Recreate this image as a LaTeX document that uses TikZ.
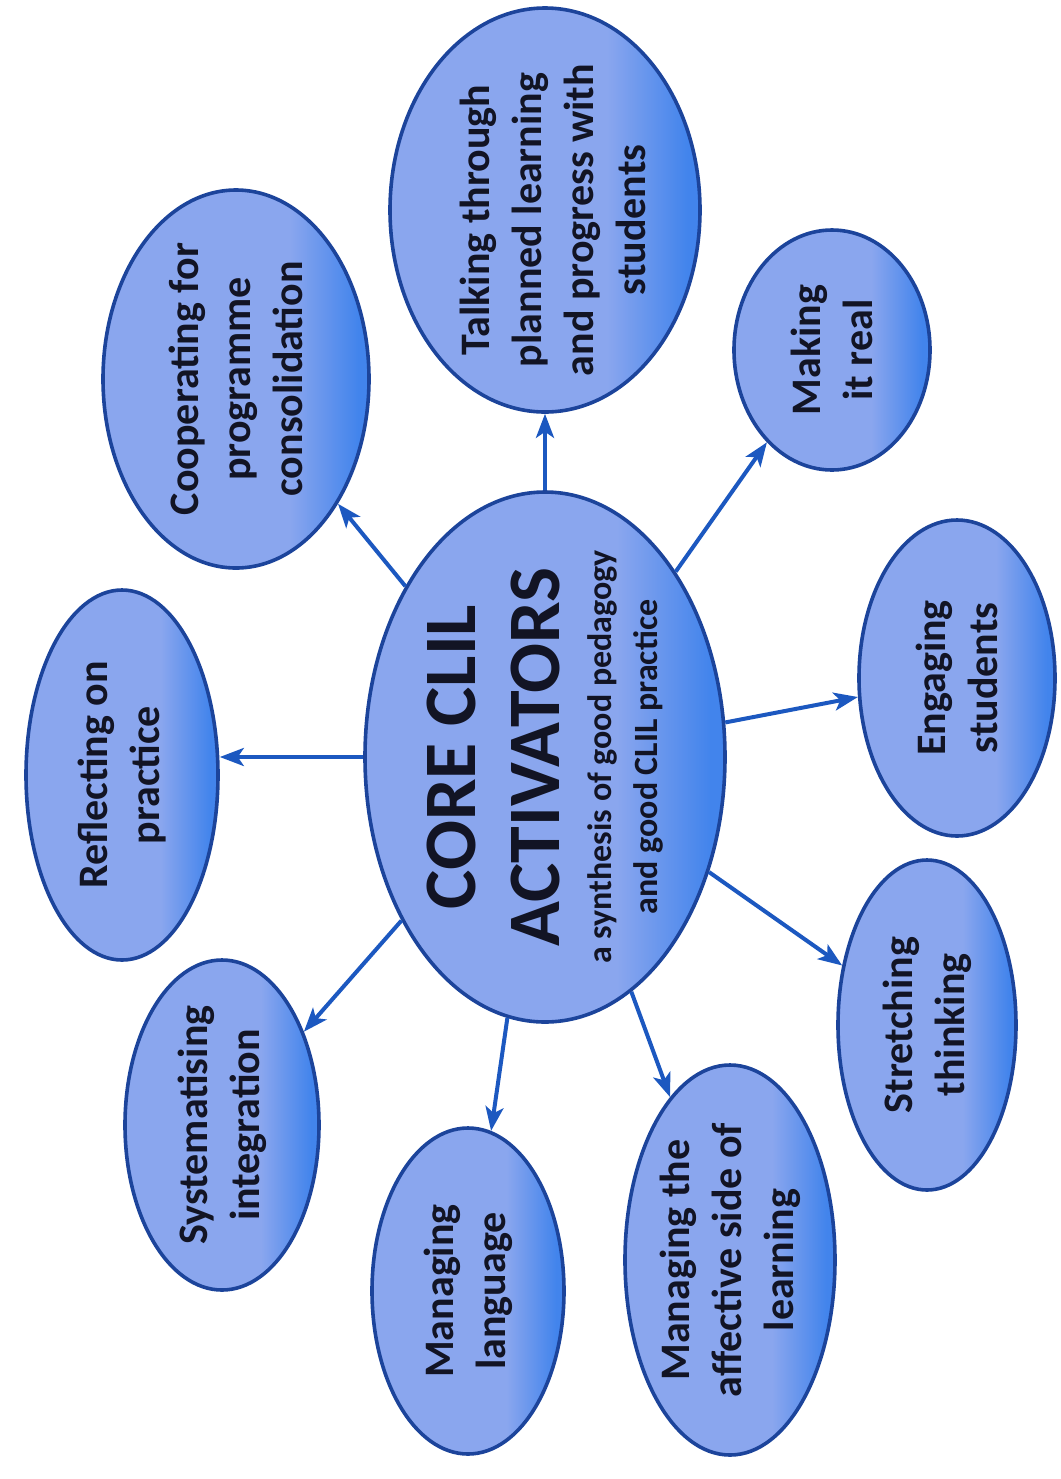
\documentclass[tikz,border=0pt]{standalone}
\usepackage{fontspec}
\setmainfont{Carlito}
\usetikzlibrary{shapes.geometric,arrows.meta}

\definecolor{bubbleLight}{RGB}{138,166,238}
\definecolor{bubbleEdge}{RGB}{66,132,236}
\definecolor{rimBlue}{RGB}{28,68,155}
\definecolor{arrowBlue}{RGB}{28,88,192}
\definecolor{inkDark}{RGB}{18,20,36}

% light body with a brighter blue band along the right-hand rim
\pgfdeclarehorizontalshading{bubbleshade}{100bp}{%
  color(0bp)=(bubbleLight); color(25bp)=(bubbleLight);
  color(60bp)=(bubbleLight); color(73bp)=(bubbleEdge);
  color(100bp)=(bubbleEdge)}

\begin{document}
\begin{tikzpicture}[x=0.5pt,y=-0.5pt,
  bubble/.style n args={2}{ellipse, draw=rimBlue, line width=1.8pt,
    shade, shading=bubbleshade, inner sep=0pt,
    minimum width=#1pt, minimum height=#2pt},
  lbl/.style={rotate=90, align=center, text=inkDark, inner sep=0pt,
    font=\bfseries\fontsize{21}{26}\selectfont},
  conn/.style={draw=arrowBlue, line width=2pt,
    -{Stealth[length=12pt,width=9pt,inset=3pt]}}]

\useasboundingbox (0,0) rectangle (1061,1479);

% ellipses
\node[bubble={180}{265}] (core)    at (545,757)  {};
\node[bubble={155}{202}] (talk)    at (545,210)  {};
\node[bubble={133}{189}] (coop)    at (236,379)  {};
\node[bubble={98}{120}]  (real)    at (832,350)  {};
\node[bubble={98}{158}]  (engage)  at (957,678)  {};
\node[bubble={96}{185}]  (reflect) at (122,775)  {};
\node[bubble={97}{165}]  (system)  at (222,1125) {};
\node[bubble={96}{163}]  (lang)    at (468,1291) {};
\node[bubble={105}{195}] (affect)  at (730,1260) {};
\node[bubble={89}{165}]  (stretch) at (927,1025) {};

% labels
\node[lbl, font=\bfseries\fontsize{37}{42}\selectfont] (core-title) at (493,757)
  {CORE CLIL\\ACTIVATORS};
\node[lbl, font=\bfseries\fontsize{17}{23}\selectfont] (core-sub) at (625,757)
  {a synthesis of good pedagogy\\and good CLIL practice};
\node[lbl] (talk-txt)    at (553,220) {Talking through\\planned learning\\and progress with\\students};
\node[lbl] (coop-txt)    at (coop)    {Cooperating for\\programme\\consolidation};
\node[lbl] (real-txt)    at (real)    {Making\\it real};
\node[lbl] (engage-txt)  at (engage)  {Engaging\\students};
\node[lbl] (reflect-txt) at (reflect) {Reflecting on\\practice};
\node[lbl] (system-txt)  at (system)  {Systematising\\integration};
\node[lbl] (lang-txt)    at (lang)    {Managing\\language};
\node[lbl] (affect-txt)  at (affect)  {Managing the\\affective side of\\learning};
\node[lbl] (stretch-txt) at (stretch) {Stretching\\thinking};

% connectors
\draw[conn] (core) -- (talk);
\draw[conn] (core) -- (coop);
\draw[conn] (core) -- (real);
\draw[conn] (core) -- (engage);
\draw[conn] (core.west) -- (core.west -| reflect.east);
\draw[conn] (core) -- (system);
\draw[conn] (core) -- (lang);
\draw[conn] (core) -- (affect);
\draw[conn] (core) -- (stretch);
\end{tikzpicture}
\end{document}
